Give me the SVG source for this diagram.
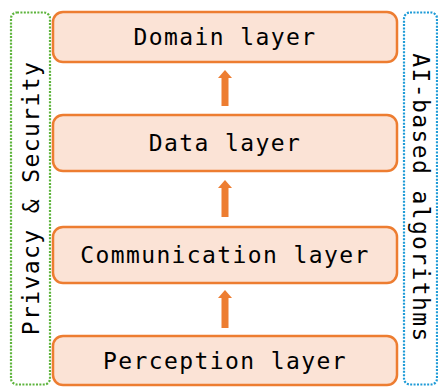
<svg xmlns="http://www.w3.org/2000/svg" width="438" height="389" viewBox="0 0 438 389">
  <defs>
    <style>
      .layer rect { fill: #FBE3D6; stroke: #ED7D31; stroke-width: 2.5; }
      .lbl { font-family: "DejaVu Sans Mono", "Liberation Mono", monospace; font-size: 23px; letter-spacing: 1.4px; fill: #000; text-anchor: middle; dominant-baseline: central; }
      .arrow { fill: #ED7D31; }
      .side-green { fill: none; stroke: #5DB43C; stroke-width: 2.2; stroke-dasharray: 2 1.4; }
      .side-blue { fill: none; stroke: #1E9BD7; stroke-width: 2.2; stroke-dasharray: 2 1.4; }
    </style>
  </defs>

  <!-- cross-cutting concerns -->
  <g id="privacy-security">
    <rect class="side-green" x="11" y="12.5" width="39" height="372" rx="6"/>
    <text class="lbl" transform="translate(31,198) rotate(-90)">Privacy &amp; Security</text>
  </g>
  <g id="ai-algorithms">
    <rect class="side-blue" x="404" y="12.5" width="33" height="372" rx="6"/>
    <text class="lbl" transform="translate(421,198) rotate(90)">AI-based algorithms</text>
  </g>

  <!-- layer stack -->
  <g id="domain" class="layer">
    <rect x="53" y="12" width="344" height="50" rx="10"/>
    <text class="lbl" x="225" y="37">Domain layer</text>
  </g>
  <g id="data" class="layer">
    <rect x="53" y="115" width="344" height="56" rx="10"/>
    <text class="lbl" x="225" y="143">Data layer</text>
  </g>
  <g id="communication" class="layer">
    <rect x="53" y="227" width="344" height="56" rx="10"/>
    <text class="lbl" x="225" y="255">Communication layer</text>
  </g>
  <g id="perception" class="layer">
    <rect x="53" y="336" width="344" height="49" rx="10"/>
    <text class="lbl" x="225" y="361">Perception layer</text>
  </g>

  <!-- upward flow between layers -->
  <g id="connectors">
    <path class="arrow" d="M225,70 L232,78 L228.5,78 L228.5,106 L221.5,106 L221.5,78 L218,78 Z"/>
    <path class="arrow" d="M225,180 L232,188 L228.5,188 L228.5,217 L221.5,217 L221.5,188 L218,188 Z"/>
    <path class="arrow" d="M225,290 L232,298 L228.5,298 L228.5,328 L221.5,328 L221.5,298 L218,298 Z"/>
  </g>
</svg>
